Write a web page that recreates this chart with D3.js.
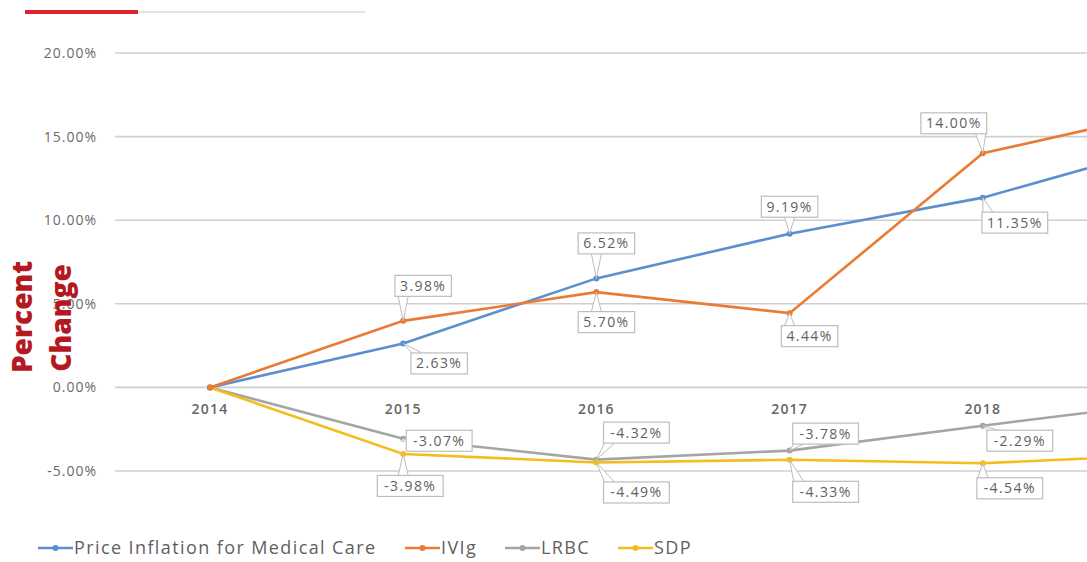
<!DOCTYPE html>
<html>
<head>
<meta charset="utf-8">
<script src="https://cdn.jsdelivr.net/npm/d3@7/dist/d3.min.js"></script>
<style>
  body { margin: 0; background: #fff; }
  svg { display: block; font-family: "Open Sans", sans-serif; }
</style>
</head>
<body>
<svg id="chart"></svg>
<script>
var years = ['2014', '2015', '2016', '2017', '2018', '2019'];
var seriesNames = ['Price Inflation for Medical Care', 'IVIg', 'LRBC', 'SDP'];
var medicalCare = [0, 2.63, 6.52, 9.19, 11.35, 14.6];
var ivig = [0, 3.98, 5.70, 4.44, 14.00, 16.6];
var lrbc = [0, -3.07, -4.32, -3.78, -2.29, -0.85];
var sdp = [0, -3.98, -4.49, -4.33, -4.54, -4.0];
var yTicks = [20, 15, 10, 5, 0, -5];

var colors = ['#5b8fd0', '#e97b34', '#a5a5a5', '#f3bd1c'];

// label offsets from each point (dx, dy), one per year 2015..2018
var labelOffsets = [
  [[36, 20], [10, -35], [0, -27], [32, 25]],
  [[20, -35], [10, 30], [20, 23], [-29, -30]],
  [[36, 2], [40, -27], [36, -17], [37, 15]],
  [[7, 32], [40, 30], [36, 32], [27, 25]]
];

var width = 1087, height = 562;
var svg = d3.select('#chart').attr('width', width).attr('height', height);

var x = d3.scalePoint().domain(years).range([210, 1176]);
var y = d3.scaleLinear().domain([-5, 20]).range([471, 53]);

// top decoration
svg.append('line').attr('x1', 138).attr('x2', 365).attr('y1', 12).attr('y2', 12)
  .attr('stroke', '#d8d8d8').attr('stroke-width', 1.5);
svg.append('line').attr('x1', 25).attr('x2', 138).attr('y1', 12).attr('y2', 12)
  .attr('stroke', '#e0202f').attr('stroke-width', 4);

// gridlines + y labels
var yAxis = svg.append('g');
yAxis.selectAll('line').data(yTicks).enter().append('line')
  .attr('x1', 115).attr('x2', width)
  .attr('y1', function(d) { return y(d); })
  .attr('y2', function(d) { return y(d); })
  .attr('stroke', '#cfcfcf').attr('stroke-width', 1.6);
yAxis.selectAll('text').data(yTicks).enter().append('text')
  .attr('x', 97)
  .attr('y', function(d) { return y(d); })
  .attr('dy', '0.35em')
  .attr('text-anchor', 'end')
  .attr('fill', '#6a6a6a')
  .attr('font-size', 14)
  .attr('letter-spacing', 1)
  .text(function(d) { return d.toFixed(2) + '%'; });

// x labels
svg.append('g').selectAll('text').data(years.slice(0, 5)).enter().append('text')
  .attr('x', function(d) { return x(d); })
  .attr('y', 409)
  .attr('dy', '0.35em')
  .attr('text-anchor', 'middle')
  .attr('fill', '#666')
  .attr('font-size', 14)
  .attr('font-weight', 600)
  .attr('letter-spacing', 1.2)
  .text(function(d) { return d; });

// axis title
var title = svg.append('g').attr('fill', '#b3191f').attr('font-weight', 800).attr('font-size', 28);
title.append('text').attr('transform', 'translate(32,317) rotate(-90)')
  .attr('text-anchor', 'middle').text('Percent');
title.append('text').attr('transform', 'translate(71,318) rotate(-90)')
  .attr('text-anchor', 'middle').text('Change');

var allSeries = [medicalCare, ivig, lrbc, sdp];
var line = d3.line()
  .x(function(d, i) { return x(years[i]); })
  .y(function(d) { return y(d); });

// draw lines (grey under yellow, blue under orange as in reference)
var drawOrder = [2, 3, 0, 1];
drawOrder.forEach(function(s) {
  svg.append('path').datum(allSeries[s])
    .attr('d', line)
    .attr('fill', 'none')
    .attr('stroke', colors[s])
    .attr('stroke-width', 2.6);
  svg.append('g').selectAll('circle').data(allSeries[s]).enter().append('circle')
    .attr('cx', function(d, i) { return x(years[i]); })
    .attr('cy', function(d) { return y(d); })
    .attr('r', 3)
    .attr('fill', colors[s]);
});

// data labels
var labels = svg.append('g');
allSeries.forEach(function(vals, s) {
  for (var i = 1; i <= 4; i++) {
    var px = x(years[i]), py = y(vals[i]);
    var off = labelOffsets[s][i - 1];
    var cx = px + off[0], cy = py + off[1];
    var txt = vals[i].toFixed(2) + '%';
    var w = txt.length * 9.3 + 10, h = 21;
    // callout pointer
    var ex = Math.max(cx - w / 2 + 6, Math.min(cx + w / 2 - 6, px));
    var ey = (py < cy) ? cy - h / 2 : cy + h / 2;
    if (Math.abs(py - cy) < h / 2) { ey = cy; ex = px < cx ? cx - w / 2 : cx + w / 2; }
    labels.append('path')
      .attr('d', 'M' + (ex - 5) + ',' + ey + 'L' + px + ',' + py + 'L' + (ex + 5) + ',' + ey)
      .attr('fill', '#fff').attr('stroke', '#bdbdbd').attr('stroke-width', 1);
    labels.append('rect')
      .attr('x', cx - w / 2).attr('y', cy - h / 2)
      .attr('width', w).attr('height', h)
      .attr('fill', '#fff').attr('stroke', '#bdbdbd').attr('stroke-width', 1.2);
    labels.append('text')
      .attr('x', cx).attr('y', cy).attr('dy', '0.35em')
      .attr('text-anchor', 'middle')
      .attr('fill', '#5f5f5f').attr('font-size', 14)
      .attr('letter-spacing', 1.4)
      .text(txt);
  }
});

// legend
var legendX = [38, 405, 505, 618];
var legend = svg.append('g').attr('transform', 'translate(0,548)');
seriesNames.forEach(function(name, s) {
  var g = legend.append('g').attr('transform', 'translate(' + legendX[s] + ',0)');
  g.append('line').attr('x1', 0).attr('x2', 35).attr('stroke', colors[s]).attr('stroke-width', 2.6);
  g.append('circle').attr('cx', 17.5).attr('r', 3).attr('fill', colors[s]);
  g.append('text').attr('x', 36).attr('dy', '0.35em')
    .attr('fill', '#5f5f5f').attr('font-size', 18)
    .attr('letter-spacing', 1.4)
    .text(name);
});
</script>
</body>
</html>
